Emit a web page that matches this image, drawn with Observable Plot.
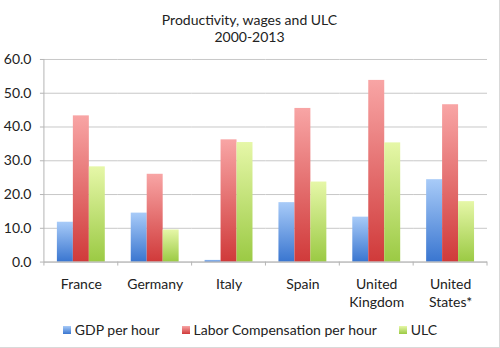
<!DOCTYPE html>
<html><head><meta charset="utf-8">
<script src="https://cdn.jsdelivr.net/npm/d3@7"></script>
<script src="https://cdn.jsdelivr.net/npm/@observablehq/plot@0.6"></script>
<style>
html,body{margin:0;padding:0;background:#fff;}
#chart{width:500px;height:348px;box-sizing:border-box;border-right:1px solid #d9d9d9;border-bottom:1px solid #d9d9d9;font-family:Lato,"Open Sans",sans-serif;color:#222;position:relative;overflow:hidden;}
#title{text-align:center;font-size:14px;line-height:17px;padding-top:11px;height:37px;}
#plot{position:absolute;left:0;top:48px;}
#legend{position:absolute;left:0;width:500px;top:322px;height:16px;line-height:16px;font-size:14px;display:flex;justify-content:center;align-items:center;}
.item{display:flex;align-items:center;margin:0 11px;}
.sw{width:8px;height:8px;margin-right:4px;}
</style></head><body>
<div id="chart"><div id="title">Productivity, wages and ULC<br>2000-2013</div><div id="plot"></div><div id="legend"></div></div>
<script>
const countries = ["France","Germany","Italy","Spain","United Kingdom","United States*"];
const countryLabels = ["France","Germany","Italy","Spain","United\nKingdom","United\nStates*"];
const seriesNames = ["GDP per hour","Labor Compensation per hour","ULC"];
const gdpPerHour = [11.8,14.5,0.5,17.6,13.3,24.4];
const laborCompPerHour = [43.3,26.0,36.2,45.5,53.8,46.6];
const ulc = [28.2,9.5,35.4,23.7,35.3,17.9];
const yTicks = [0,10,20,30,40,50,60];
const seriesColors = [["#a8cbf8","#3a76d0"],["#f8a5a5","#d03a3a"],["#e6f7a8","#9bca44"]];

const seriesValues = [gdpPerHour, laborCompPerHour, ulc];
const rows = [];
countries.forEach((c, i) => seriesNames.forEach((s, j) => rows.push({country: c, series: s, value: seriesValues[j][i]})));

const font = 'Lato, "Open Sans", sans-serif';
const plot = Plot.plot({
  width: 500, height: 262,
  marginTop: 11, marginLeft: 43, marginRight: 12, marginBottom: 48,
  style: {fontFamily: font, fontSize: "14px", color: "#222", background: "transparent", overflow: "visible"},
  fx: {domain: countries, paddingInner: 0, paddingOuter: 0, label: null},
  x: {domain: seriesNames, paddingInner: 0, paddingOuter: 0.72, axis: null},
  y: {domain: [0, 60], label: null},
  marks: [
    Plot.gridY(yTicks, {stroke: "#c8c8c8", strokeOpacity: 1}),
    ...seriesNames.map((s, j) => Plot.barY(rows.filter(r => r.series === s), {fx: "country", x: "series", y: "value", fill: `url(#grad${j})`})),
    Plot.ruleY([0], {stroke: "#b5b5b5"}),
    Plot.axisY(yTicks, {tickFormat: d => d.toFixed(1), tickSize: 4, tickPadding: 9, stroke: "#b5b5b5", fill: "#222", label: null}),
    Plot.axisFx({anchor: "bottom", tickSize: 0, tickPadding: 15, lineHeight: 1.25, label: null, fill: "#222",
      tickFormat: c => countryLabels[countries.indexOf(c)]})
  ]
});
document.getElementById("plot").appendChild(plot);

// gradients
const svg = d3.select(plot);
const defs = svg.insert("defs", ":first-child");
seriesColors.forEach(([top, bottom], j) => {
  const g = defs.append("linearGradient").attr("id", `grad${j}`).attr("x1", 0).attr("y1", 0).attr("x2", 0).attr("y2", 1);
  g.append("stop").attr("offset", "0%").attr("stop-color", top);
  g.append("stop").attr("offset", "100%").attr("stop-color", bottom);
});

// axis line and category boundary ticks from the plot's scales
const ys = plot.scale("y"), fxs = plot.scale("fx");
const y0 = ys.apply(0), yTop = ys.apply(60);
const left = fxs.apply(countries[0]);
const g = svg.append("g").attr("stroke", "#b5b5b5");
g.append("line").attr("x1", left).attr("x2", left).attr("y1", yTop).attr("y2", y0 + 4);
countries.forEach((c, i) => {
  const xb = fxs.apply(c) + fxs.bandwidth;
  g.append("line").attr("x1", xb).attr("x2", xb).attr("y1", y0).attr("y2", y0 + 4);
});

// legend
const legend = d3.select("#legend");
seriesNames.forEach((s, j) => {
  const it = legend.append("div").attr("class", "item");
  it.append("div").attr("class", "sw").style("background", `linear-gradient(${seriesColors[j][0]}, ${seriesColors[j][1]})`);
  it.append("span").text(s);
});
</script>
</body></html>
